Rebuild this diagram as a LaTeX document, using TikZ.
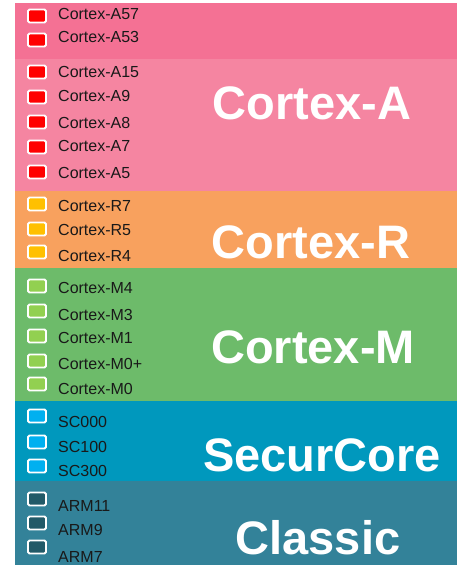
\documentclass[tikz,border=0pt]{standalone}
\usepackage{fontspec}
\setmainfont{Liberation Sans}
\usetikzlibrary{positioning}
\definecolor{bandAnew}{HTML}{F47194}
\definecolor{bandA}{HTML}{F585A1}
\definecolor{bandR}{HTML}{F8A15E}
\definecolor{bandM}{HTML}{6DBB6A}
\definecolor{bandSC}{HTML}{0098BD}
\definecolor{bandCl}{HTML}{338299}
\definecolor{chipA}{HTML}{FF0000}
\definecolor{chipR}{HTML}{FFC000}
\definecolor{chipM}{HTML}{92D050}
\definecolor{chipSC}{HTML}{00B0F0}
\definecolor{chipCl}{HTML}{225A68}
\tikzset{
    chip/.style={draw=white,line width=1.8pt,rounded corners=1.5pt,minimum width=18pt,minimum height=13pt,inner sep=0pt},
    core/.style={anchor=west,inner sep=0pt,font=\fontsize{16}{18}\selectfont,text=black!90},
    family/.style={text=white,inner sep=0pt,font=\fontsize{47}{50}\selectfont\bfseries}
}
\begin{document}
\begin{tikzpicture}[x=1pt,y=-1pt]
    \useasboundingbox (0,0) rectangle (458,565);
    % bands
    \fill[bandAnew] (15,3) rectangle (457,59);
    \fill[bandA] (15,59) rectangle (457,191);
    \fill[bandR] (15,191) rectangle (457,268);
    \fill[bandM] (15,268) rectangle (457,401);
    \fill[bandSC] (15,401) rectangle (457,481);
    \fill[bandCl] (15,481) rectangle (457,565);

    % Cortex-A
    \node[chip,fill=chipA] (a57) at (37,16) {};
    \node[core] (ta57) at (58,14) {Cortex-A57};
    \node[chip,fill=chipA] (a53) at (37,40) {};
    \node[core] (ta53) at (58,37) {Cortex-A53};
    \node[chip,fill=chipA] (a15) at (37,72) {};
    \node[core] (ta15) at (58,72) {Cortex-A15};
    \node[chip,fill=chipA] (a9) at (37,97) {};
    \node[core] (ta9) at (58,96) {Cortex-A9};
    \node[chip,fill=chipA] (a8) at (37,122) {};
    \node[core] (ta8) at (58,123) {Cortex-A8};
    \node[chip,fill=chipA] (a7) at (37,147) {};
    \node[core] (ta7) at (58,146) {Cortex-A7};
    \node[chip,fill=chipA] (a5) at (37,172) {};
    \node[core] (ta5) at (58,173) {Cortex-A5};
    \node[family] (famA) at (312,103) {Cortex-A};

    % Cortex-R
    \node[chip,fill=chipR] (r7) at (37,204) {};
    \node[core] (tr7) at (58,206) {Cortex-R7};
    \node[chip,fill=chipR] (r5) at (37,229) {};
    \node[core] (tr5) at (58,230) {Cortex-R5};
    \node[chip,fill=chipR] (r4) at (37,252) {};
    \node[core] (tr4) at (58,256) {Cortex-R4};
    \node[family] (famR) at (311,242) {Cortex-R};

    % Cortex-M
    \node[chip,fill=chipM] (m4) at (37,286) {};
    \node[core] (tm4) at (58,288) {Cortex-M4};
    \node[chip,fill=chipM] (m3) at (37,311) {};
    \node[core] (tm3) at (58,315) {Cortex-M3};
    \node[chip,fill=chipM] (m1) at (37,336) {};
    \node[core] (tm1) at (58,338) {Cortex-M1};
    \node[chip,fill=chipM] (m0p) at (37,361) {};
    \node[core] (tm0p) at (58,364) {Cortex-M0+};
    \node[chip,fill=chipM] (m0) at (37,384) {};
    \node[core] (tm0) at (58,389) {Cortex-M0};
    \node[family] (famM) at (313,347) {Cortex-M};

    % SecurCore
    \node[chip,fill=chipSC] (sc0) at (37,416) {};
    \node[core] (tsc0) at (58,422) {SC000};
    \node[chip,fill=chipSC] (sc1) at (37,442) {};
    \node[core] (tsc1) at (58,447) {SC100};
    \node[chip,fill=chipSC] (sc3) at (37,466) {};
    \node[core] (tsc3) at (58,471) {SC300};
    \node[family] (famSC) at (322,455) {SecurCore};

    % Classic
    \node[chip,fill=chipCl] (arm11) at (37,499) {};
    \node[core] (tarm11) at (58,506) {ARM11};
    \node[chip,fill=chipCl] (arm9) at (37,523) {};
    \node[core] (tarm9) at (58,530) {ARM9};
    \node[chip,fill=chipCl] (arm7) at (37,547) {};
    \node[core] (tarm7) at (58,557) {ARM7};
    \node[family] (famCl) at (318,538) {Classic};
\end{tikzpicture}
\end{document}
